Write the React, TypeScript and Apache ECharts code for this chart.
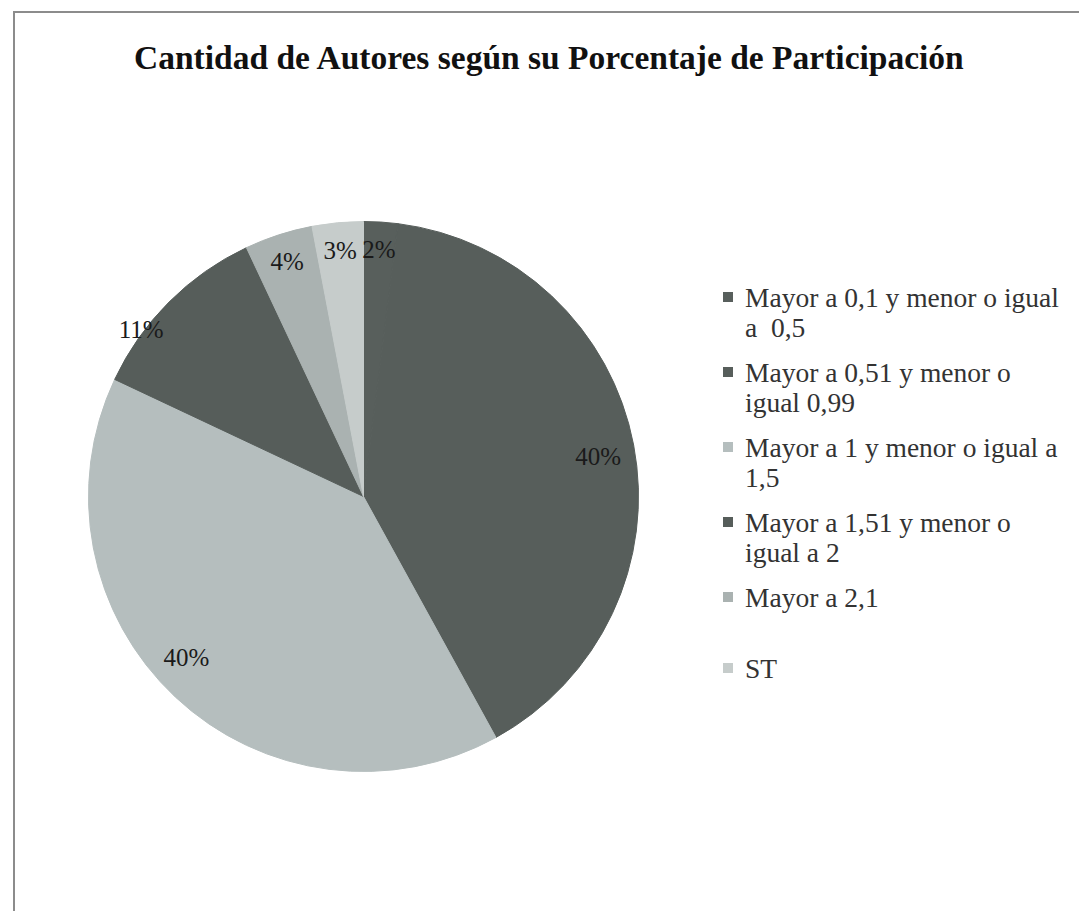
import { useEffect, useRef } from 'react';
import * as echarts from 'echarts';

const titleText = 'Cantidad de Autores según su Porcentaje de Participación';
const categories = [
  'Mayor a 0,1 y menor o igual\na  0,5',
  'Mayor a 0,51 y menor o\nigual 0,99',
  'Mayor a 1 y menor o igual a\n1,5',
  'Mayor a 1,51 y menor o\nigual a 2',
  'Mayor a 2,1',
  'ST',
];
const percentages = [2, 40, 40, 11, 4, 3];
const sliceColors = ['#585f5c', '#575e5b', '#b5bebe', '#565d5a', '#aab2b1', '#c6cccb'];

export default function App() {
  const ref = useRef<HTMLDivElement>(null);
  useEffect(() => {
    document.body.style.margin = '0';
    const chart = echarts.init(ref.current!, null, { renderer: 'svg' });
    const font = 'Liberation Serif';
    const center = [363.5, 496.5];
    const R = 275;
    const baseData = categories.map((name, i) => ({
      name,
      value: percentages[i],
      itemStyle: { color: sliceColors[i], borderColor: sliceColors[i], borderWidth: 1 },
    }));
    const labelStyle = {
      fontFamily: font,
      fontSize: 25,
      color: '#1a1a1a',
    };
    const legendText = {
      fontFamily: font,
      fontSize: 27.5,
      lineHeight: 30,
      color: '#333333',
    };
    const twoLine = categories.filter((c) => c.includes('\n'));
    const oneLine = categories.filter((c) => !c.includes('\n'));
    const labelNudge: Record<number, { dx: number; dy: number }> = {
      1: { dx: -8, dy: 6 },
      2: { dx: -8, dy: -19 },
    };
    const option = {
      animation: false,
      backgroundColor: '#ffffff',
      title: {
        text: titleText,
        left: 134,
        top: 40,
        padding: 0,
        textStyle: { fontFamily: font, fontSize: 33.5, fontWeight: 'bold', color: '#111111' },
      },
      legend: [
        {
          orient: 'vertical',
          left: 723,
          top: 282,
          padding: 0,
          itemGap: 15,
          itemWidth: 10,
          itemHeight: 40,
          icon: 'path://M0,0h10v10h-10zM0,40h10v0h-10z',
          itemStyle: { borderWidth: 0 },
          selectedMode: false,
          data: twoLine,
          textStyle: { ...legendText, padding: [0, 0, 0, 7] },
        },
        {
          orient: 'vertical',
          left: 723,
          top: 582,
          padding: 0,
          itemGap: 41,
          itemWidth: 10,
          itemHeight: 10,
          icon: 'rect',
          itemStyle: { borderWidth: 0 },
          selectedMode: false,
          data: oneLine,
          textStyle: { ...legendText, padding: [0, 0, 0, 7] },
        },
      ],
      graphic: [
        {
          type: 'rect',
          silent: true,
          shape: { x: 14, y: 12, width: 1200, height: 1000 },
          style: { fill: 'none', stroke: '#8c8c8c', lineWidth: 2 },
        },
      ],
      series: [
        {
          type: 'pie',
          center,
          radius: [0, R],
          startAngle: 90,
          clockwise: true,
          data: baseData,
          label: { show: false },
          labelLine: { show: false },
          silent: true,
          emphasis: { disabled: true },
        },
        {
          type: 'pie',
          center,
          radius: [213, R],
          startAngle: 90,
          clockwise: true,
          data: baseData.map((d, i) => ({
            ...d,
            itemStyle: { color: 'rgba(0,0,0,0)', borderWidth: 0 },
            label: { show: i !== 3 },
          })),
          label: { show: true, position: 'inside', formatter: '{c}%', ...labelStyle },
          labelLine: { show: false },
          labelLayout: (p: any) => labelNudge[p.dataIndex] || {},
          silent: true,
          emphasis: { disabled: true },
          z: 3,
        },
        {
          type: 'pie',
          center,
          radius: [270, 282],
          startAngle: 90,
          clockwise: true,
          data: baseData.map((d, i) => ({
            ...d,
            itemStyle: { color: 'rgba(0,0,0,0)', borderWidth: 0 },
            label: { show: i === 3 },
          })),
          label: { show: true, position: 'inside', formatter: '{c}%', ...labelStyle },
          labelLine: { show: false },
          labelLayout: (p: any) => (p.dataIndex === 3 ? { dx: -25, dy: 30 } : {}),
          silent: true,
          emphasis: { disabled: true },
          z: 3,
        },
      ],
    };
    chart.setOption(option as any);
    return () => chart.dispose();
  }, []);
  return <div ref={ref} style={{ width: 1079, height: 911 }} />;
}
